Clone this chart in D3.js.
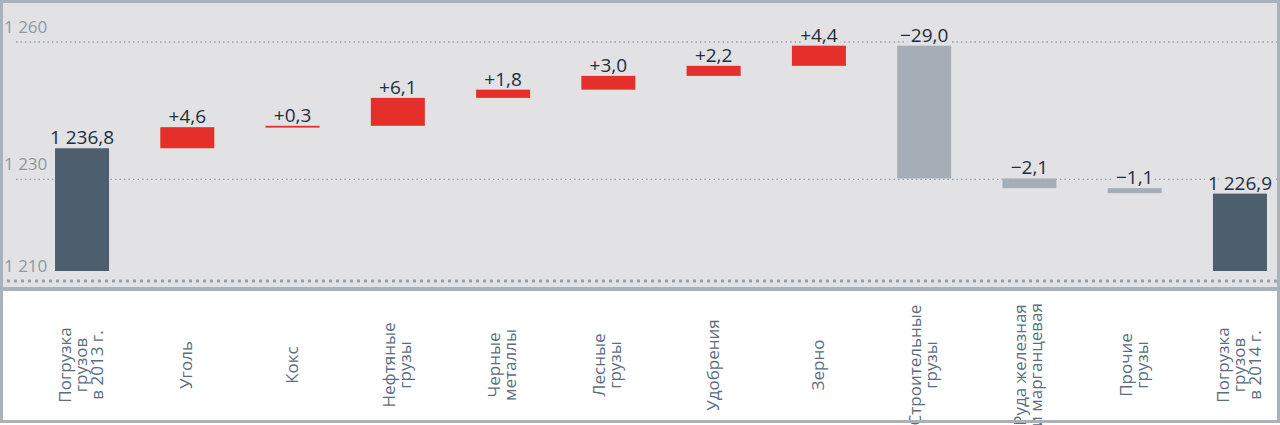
<!DOCTYPE html>
<html>
<head>
<meta charset="utf-8">
<script src="https://cdn.jsdelivr.net/npm/d3@7"></script>
<style>
  body { margin: 0; background: #fff; }
  svg { display: block; font-family: "Open Sans", sans-serif; }
</style>
</head>
<body>
<svg id="chart"></svg>
<script>
// categories (line breaks as in the picture)
const categories = [
  "Погрузка\nгрузов\nв 2013 г.",
  "Уголь",
  "Кокс",
  "Нефтяные\nгрузы",
  "Черные\nметаллы",
  "Лесные\nгрузы",
  "Удобрения",
  "Зерно",
  "Строительные\nгрузы",
  "Руда железная\nи марганцевая",
  "Прочие\nгрузы",
  "Погрузка\nгрузов\nв 2014 г."
];
const startTotal = 1236.8;
const changes = [4.6, 0.3, 6.1, 1.8, 3.0, 2.2, 4.4, -29.0, -2.1, -1.1];
const endTotal = 1226.9;
const yTicks = [1210, 1230, 1260];

const W = 1280, H = 425;
const plotBottom = 287;   // grey area ends here

const ru = d3.formatLocale({ decimal: ",", thousands: "\u00a0", grouping: [3], currency: ["", ""], minus: "\u2212" });
const fmtTick = ru.format(",d");
const fmtTotal = ru.format(",.1f");
const fmtChange = ru.format("+,.1f");

// build waterfall rows
let run = startTotal;
const rows = [{ cat: categories[0], y0: 1210, y1: startTotal, label: fmtTotal(startTotal), type: "total" }];
changes.forEach((c, i) => {
  const from = run;
  run = run + c;
  rows.push({ cat: categories[i + 1], y0: from, y1: run, label: fmtChange(c), type: c >= 0 ? "up" : "down" });
});
rows.push({ cat: categories[categories.length - 1], y0: 1210, y1: endTotal, label: fmtTotal(endTotal), type: "total" });

const colors = { total: "#4d5e6e", up: "#e52f2a", down: "#a5aeb7" };

const svg = d3.select("#chart").attr("width", W).attr("height", H);

// backgrounds and frame
svg.append("rect").attr("x", 0).attr("y", 0).attr("width", W).attr("height", plotBottom).attr("fill", "#e2e2e4");
svg.append("rect").attr("x", 0).attr("y", plotBottom).attr("width", W).attr("height", 4).attr("fill", "#a9b1b9");

const x = d3.scaleBand()
  .domain(categories)
  .range([29.4, 1292.6])
  .paddingInner(0.487)
  .paddingOuter(0.2435);

const y = d3.scaleLinear()
  .domain([1210, 1260])
  .range([271, 42]);

// gridlines; the lowest one is drawn as the heavy dashed base line
const gridY = v => v === yTicks[0] ? y(v) + 10 : y(v);

svg.append("g")
  .selectAll("line")
  .data(yTicks)
  .join("line")
  .attr("x1", v => v === yTicks[0] ? 0 : 16)
  .attr("x2", 1277)
  .attr("y1", gridY)
  .attr("y2", gridY)
  .attr("stroke", "#97a1aa")
  .attr("stroke-width", v => v === yTicks[0] ? 3 : 1.4)
  .attr("stroke-dasharray", v => v === yTicks[0] ? "3,4" : "1.5,3");

svg.append("g")
  .selectAll("text")
  .data(yTicks)
  .join("text")
  .attr("x", 4)
  .attr("y", v => gridY(v) - 9)
  .attr("fill", "#8d99a5")
  .attr("font-size", 17)
  .text(fmtTick);

// value labels, with a halo that breaks the gridlines (drawn under the bars)
svg.append("g")
  .selectAll("text")
  .data(rows)
  .join("text")
  .attr("x", d => x(d.cat) + x.bandwidth() / 2)
  .attr("y", d => y(Math.max(d.y0, d.y1)) - 4)
  .attr("text-anchor", "middle")
  .attr("font-size", 19)
  .attr("fill", "#1c2e3e")
  .attr("stroke", "#e2e2e4")
  .attr("stroke-width", 7)
  .attr("paint-order", "stroke")
  .text(d => d.label);

// bars
svg.append("g")
  .selectAll("rect")
  .data(rows)
  .join("rect")
  .attr("x", d => x(d.cat))
  .attr("width", x.bandwidth())
  .attr("y", d => y(Math.max(d.y0, d.y1)))
  .attr("height", d => Math.max(1.8, Math.abs(y(d.y0) - y(d.y1))))
  .attr("fill", d => colors[d.type]);

// rotated category labels
const lineH = 16;
const cats = svg.append("g")
  .selectAll("g")
  .data(categories)
  .join("g")
  .attr("transform", d => `translate(${x(d) + x.bandwidth() / 2},365) rotate(-90)`);

cats.append("text")
  .attr("text-anchor", "middle")
  .attr("font-size", 17)
  .attr("fill", "#5b6d7e")
  .each(function (d) {
    const lines = d.split("\n");
    d3.select(this).selectAll("tspan")
      .data(lines)
      .join("tspan")
      .attr("x", 0)
      .attr("y", (l, i) => 5 + (i - (lines.length - 1) / 2) * lineH)
      .text(l => l);
  });

// outer frame on top
svg.append("rect").attr("x", 1.5).attr("y", 1.5).attr("width", W - 3).attr("height", 420)
  .attr("fill", "none").attr("stroke", "#a9b1b9").attr("stroke-width", 3);
</script>
</body>
</html>
